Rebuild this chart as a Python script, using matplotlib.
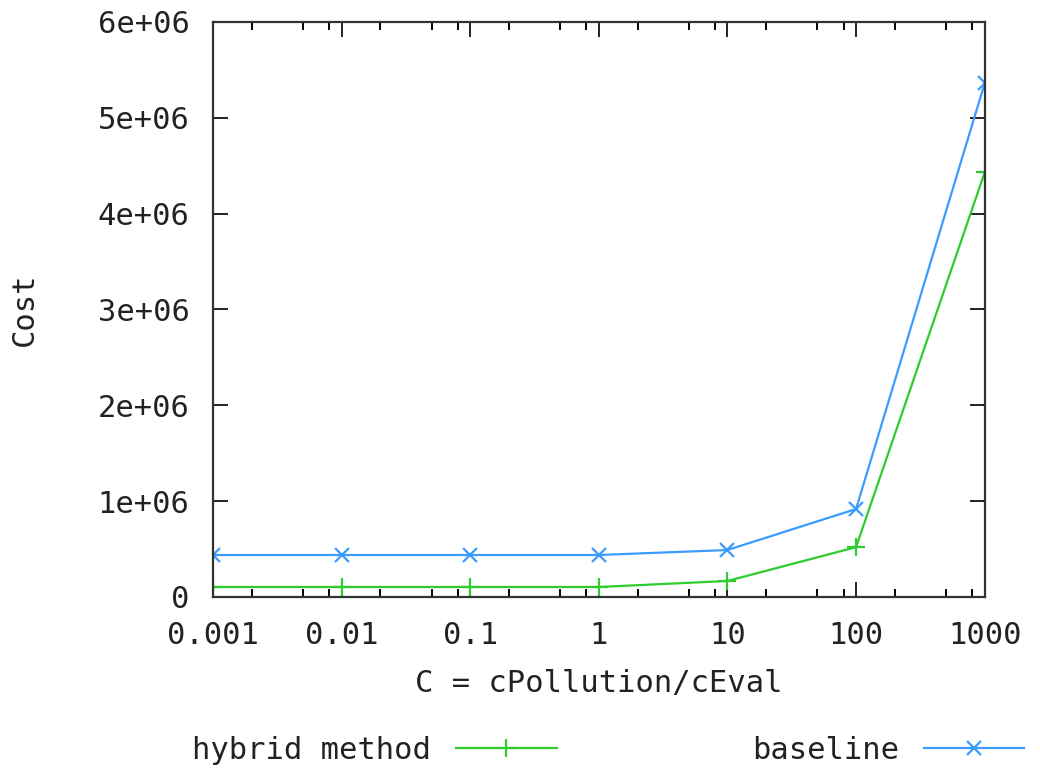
import matplotlib.pyplot as plt
from matplotlib.ticker import LogLocator, NullFormatter

plt.rcParams['font.family'] = ['DejaVu Sans Mono']

C = [0.001, 0.01, 0.1, 1, 10, 100, 1000]
hybrid = [0.104e6, 0.104e6, 0.104e6, 0.104e6, 0.167e6, 0.52e6, 4.43e6]
baseline = [0.438e6, 0.438e6, 0.438e6, 0.438e6, 0.49e6, 0.918e6, 5.36e6]
xticklabels = ['0.001', '0.01', '0.1', '1', '10', '100', '1000']
yticks = [0, 1e6, 2e6, 3e6, 4e6, 5e6, 6e6]
yticklabels = ['0', '1e+06', '2e+06', '3e+06', '4e+06', '5e+06', '6e+06']

fig = plt.figure(figsize=(10.4, 7.69), dpi=100)
ax = fig.add_axes([0.2048, 0.2237, 0.742, 0.7477])

ax.plot(C, hybrid, color='#2ecc2e', lw=1.6, marker='+', ms=13, mew=1.6,
        label='hybrid method')
ax.plot(C, baseline, color='#3b9cff', lw=1.6, marker='x', ms=10, mew=1.6,
        label='baseline')

ax.set_xscale('log')
ax.set_xlim(0.001, 1000)
ax.set_ylim(0, 6e6)
ax.set_xticks(C)
ax.set_xticklabels(xticklabels)
ax.xaxis.set_minor_locator(LogLocator(base=10, subs=[2, 5, 8]))
ax.xaxis.set_minor_formatter(NullFormatter())
ax.set_yticks(yticks)
ax.set_yticklabels(yticklabels)

ax.tick_params(which='major', direction='in', length=11, width=1.4,
               top=True, right=True, labelsize=22, pad=17, colors='#222222')
ax.tick_params(which='minor', direction='in', length=6, width=1.4,
               top=True, right=True)
for s in ax.spines.values():
    s.set_linewidth(1.6)
    s.set_color('#333333')

ax.set_xlabel('C = cPollution/cEval', fontsize=22, labelpad=14, color='#222222')
ax.set_ylabel('Cost', fontsize=22, labelpad=42, color='#222222')

leg = fig.legend(loc='lower center', bbox_to_anchor=(0.585, -0.03), ncol=2,
                 markerfirst=False, frameon=False, fontsize=22, handlelength=3.3,
                 handletextpad=0.8, columnspacing=6.4)
for t in leg.get_texts():
    t.set_color('#222222')

fig.savefig('out.png', dpi=100)
